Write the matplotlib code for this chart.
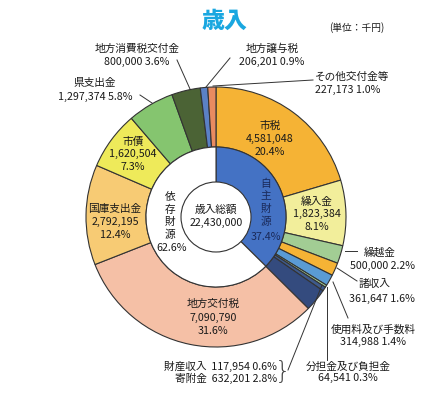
import matplotlib
matplotlib.use("Agg")
import matplotlib.pyplot as plt
from matplotlib.patches import Circle

plt.rcParams['font.family'] = ['Noto Sans CJK JP', 'DejaVu Sans']

# ---- data (clockwise from 12 o'clock) ----
names = ["市税", "繰入金", "繰越金", "諸収入", "使用料及び手数料", "分担金及び負担金",
         "財産収入", "寄附金", "地方交付税", "国庫支出金", "市債", "県支出金",
         "地方消費税交付金", "地方譲与税", "その他交付金等"]
values = [4581048, 1823384, 500000, 361647, 314988, 64541,
          117954, 632201, 7090790, 2792195, 1620504, 1297374,
          800000, 206201, 227173]
pcts = ["20.4%", "8.1%", "2.2%", "1.6%", "1.4%", "0.3%",
        "0.6%", "2.8%", "31.6%", "12.4%", "7.3%", "5.8%",
        "3.6%", "0.9%", "1.0%"]
colors = ["#F5B335", "#F2EE9B", "#A2CD94", "#F5B335", "#5A9BD4", "#A2CD94",
          "#3E5A8C", "#344B7E", "#F5C0A6", "#F7CB74", "#EEEA5A", "#85C56F",
          "#4B6335", "#5B81C6", "#E98B60"]
group_names = ["自主財源", "依存財源"]
group_pcts = [37.4, 62.6]
total = 22430000

W, H = 422, 396
fig = plt.figure(figsize=(W / 100, H / 100), dpi=100)
ax = fig.add_axes([0, 0, 1, 1])

def Y(y):
    return H - y

cx, cy = 216, 217
ec = "#333333"
ax.pie(values, radius=130, center=(cx, Y(cy)), startangle=90, counterclock=False,
       colors=colors, wedgeprops=dict(width=60, edgecolor=ec, linewidth=0.8))
ax.pie(group_pcts, radius=70, center=(cx, Y(cy)), startangle=90, counterclock=False,
       colors=["#4472C4", "white"], wedgeprops=dict(width=36, edgecolor=ec, linewidth=0.8))
ax.add_patch(Circle((cx, Y(cy)), 35, facecolor="white", edgecolor=ec, linewidth=0.8, zorder=3))

ax.set_xlim(0, W)
ax.set_ylim(0, H)
ax.set_aspect('auto')
ax.axis('off')

fs = 7.7
def fmt(v):
    return f"{v:,}"

def t(x, y, s, ha="center", size=fs, color="#1a1a1a", **kw):
    ax.text(x, Y(y), s, ha=ha, va="center", fontsize=size, color=color, zorder=5, **kw)

def line(pts):
    ax.plot([p[0] for p in pts], [Y(p[1]) for p in pts], color="#333333", lw=0.7, zorder=4)

# title
ax.text(224, Y(21), "歳入", ha="center", va="center", fontsize=16.5, fontweight="heavy",
        color="#1AA7E0")
t(357, 28, "(単位：千円)", size=7)

# center
t(cx, 210, "歳入総額")
t(cx, 223, fmt(total))

# in-slice labels
t(270, 126, names[0]); t(270, 139, fmt(values[0])); t(270, 152, pcts[0])
t(317, 202, names[1]); t(317, 214, fmt(values[1])); t(317, 227, pcts[1])
t(213, 304, names[8]); t(213, 318, fmt(values[8])); t(213, 331, pcts[8])
t(115, 209, names[9]); t(115, 222, fmt(values[9])); t(115, 235, pcts[9])
t(133, 142, names[10]); t(133, 154, fmt(values[10])); t(133, 167, pcts[10])

# group labels (vertical)
for i, ch in enumerate(group_names[0]):
    t(266, 184 + i * 12.5, ch, color="#1a2a5a")
t(266, 237, f"{group_pcts[0]}%", color="#1a2a5a")
for i, ch in enumerate(group_names[1]):
    t(170, 197 + i * 12.5, ch)
t(172, 248, f"{group_pcts[1]}%")

# outside labels
t(137, 49, names[12]); t(137, 62, f"{fmt(values[12])} {pcts[12]}")
line([(177, 60), (190, 89)])
t(272, 49, names[13]); t(272, 62, f"{fmt(values[13])} {pcts[13]}")
line([(230, 58), (206, 87)])
t(315, 77, names[14], ha="left"); t(315, 90, f"{fmt(values[14])} {pcts[14]}", ha="left")
line([(313, 80), (213, 86)])
t(95, 83, names[11]); t(95, 97, f"{fmt(values[11])} {pcts[11]}")
line([(140, 95), (152, 103)])

t(364, 252, names[2], ha="left"); t(383, 266, f"{fmt(values[2])} {pcts[2]}")
line([(345, 251), (357, 251)])
t(375, 284, names[3]); t(382, 299, f"{fmt(values[3])} {pcts[3]}")
line([(357, 281), (337, 268)])
t(373, 330, names[4]); t(373, 342, f"{fmt(values[4])} {pcts[4]}")
line([(348, 318), (333, 282)])
t(348, 367, names[5]); t(348, 378, f"{fmt(values[5])} {pcts[5]}")
line([(327, 360), (327, 287)])

t(277, 366, f"{names[6]}  {fmt(values[6])} {pcts[6]}", ha="right")
t(277, 378, f"{names[7]}  {fmt(values[7])} {pcts[7]}", ha="right")
ax.text(283, Y(372), "}", ha="center", va="center", fontsize=18, color="#444444",
        family="DejaVu Sans", fontweight="light", zorder=5)
line([(288, 370), (322, 285)])

fig.savefig("out.png", dpi=100)
